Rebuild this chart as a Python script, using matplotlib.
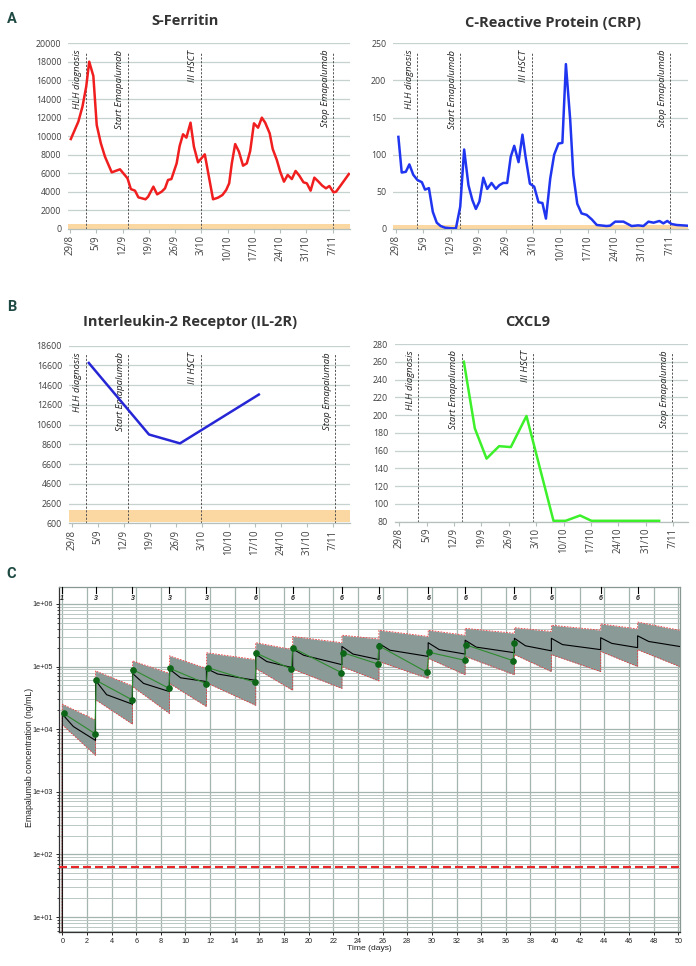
import numpy as np
import matplotlib
matplotlib.use("Agg")
import matplotlib.pyplot as plt
from matplotlib import transforms
from matplotlib.ticker import FixedLocator, NullFormatter


# ---------------------------------------------
# panels A / B : days counted from 29/8
# ---------------------------------------------
x_tick_days = [0, 7, 14, 21, 28, 35, 42, 49, 56, 63, 70]
x_tick_labels = ['29/8', '5/9', '12/9', '19/9', '26/9', '3/10', '10/10', '17/10', '24/10', '31/10', '7/11']
event_names = ['HLH diagnosis', 'Start Emapalumab', 'III HSCT', 'Stop Emapalumab']

ferritin_events = [4.2, 15.4, 34.8, 70.2]
ferritin_day = [0.2, 2.2, 3.3, 4.3, 5.1, 6.2, 7.1, 8.2, 9.3, 11.1, 13.3, 15.3, 16.2, 17.3, 18.2,
                20.1, 20.8, 22.2, 23.2, 24.4, 25.3, 26.1, 27.0, 28.4, 29.2, 30.1, 31.0, 32.1, 33.0, 34.1,
                35.9, 38.1, 39.4, 40.6, 41.6, 42.4, 43.1, 44.0, 45.0, 46.1, 47.1, 48.0, 49.0, 50.1, 51.1,
                52.0, 53.2, 54.0, 55.1, 56.0, 57.0, 58.0, 59.1, 60.1, 61.1, 62.2, 63.1, 64.1, 65.1, 66.2,
                67.2, 68.2, 69.1, 70.2, 70.9, 72.2, 74.3]
ferritin_val = [9690, 11560, 13180, 15330, 18020, 16480, 11200, 9230, 7790, 6100, 6430, 5460, 4300, 4130, 3410,
                3200, 3480, 4560, 3730, 4020, 4380, 5280, 5380, 7070, 8940, 10200, 9840, 11450, 8870, 7180,
                8040, 3200, 3370, 3660, 4200, 4920, 7070, 9150, 8330, 6820, 7070, 8400, 11380, 10910, 11990,
                11450, 10300, 8620, 7430, 6170, 5100, 5820, 5380, 6250, 5740, 5030, 4920, 4130, 5530, 5100,
                4670, 4380, 4630, 3950, 4020, 4740, 5920]
ferritin_normal = [0, 500]

crp_events = [5.45, 16.4, 34.7, 70.0]
crp_day = [0.6, 1.45, 2.5, 3.4, 4.4, 5.45, 6.6, 7.4, 8.4, 9.4,
           10.4, 11.4, 12.5, 14.2, 15.3, 16.4, 17.4, 18.5, 19.5, 20.4,
           21.3, 22.3, 23.3, 24.4, 25.5, 26.4, 27.4, 28.4, 29.3, 30.2,
           31.3, 32.3, 33.1, 34.2, 35.3, 36.4, 37.4, 38.3, 39.4, 40.4,
           41.5, 42.5, 43.4, 44.5, 45.3, 46.3, 47.4, 48.7, 50.0, 51.3,
           53.8, 54.7, 56.0, 58.1, 60.2, 61.9, 63.2, 64.5, 65.8, 67.3,
           68.3, 69.3, 70.4, 71.7, 74.3]
crp_val = [124, 76, 77, 87, 73, 66, 63, 53, 55, 23,
           8.5, 4, 1.8, 0.9, 0.9, 30, 107, 59, 39, 27,
           37, 69, 54, 62, 54, 59, 62, 62, 97, 112,
           90, 127, 97, 61, 57, 36, 35, 14, 68, 100,
           115, 116, 222, 147, 73, 34, 21, 19, 13, 5.4,
           4, 4.5, 9.9, 9.9, 4, 4.9, 4, 9.9, 8.5, 10.8,
           7.6, 10.8, 6.7, 5.4, 4.5]
crp_normal = [0, 6]

il2r_events = [3.75, 15.1, 34.6, 70.6]
il2r_day = [4.6, 20.7, 29.0, 50.1]
il2r_val = [16850, 9600, 8700, 13650]
il2r_normal = [750, 1950]

cxcl9_events = [4.85, 15.9, 34.2, 69.8]
cxcl9_day = [16.5, 19.3, 22.3, 25.5, 28.5, 32.5, 39.4, 42.5, 46.2, 49.1, 66.4]
cxcl9_val = [260, 185, 151, 165, 164, 199, 81, 81, 87, 81, 81]

# ---------------------------------------------
# panel C : emapalumab PK
# ---------------------------------------------
dose_day = [0, 2.7, 5.7, 8.7, 11.7, 15.7, 18.7, 22.7, 25.7, 29.7, 32.7, 36.7, 39.7, 43.7, 46.7]
dose_label = ['1', '3', '3', '3', '3', '6', '6', '6', '6', '6', '6', '6', '6', '6', '6']
sim_end_day = 50.1
pre_dose_conc = 1.0

med_peak = [17400, 60000, 77600, 91000, 93000, 158000, 190000, 209000, 234000, 240000, 263000, 282000, 282000, 288000, 309000]
med_mid = [11000, 35500, 53700, 66000, 76000, 120000, 151000, 158000, 182000, 186000, 204000, 214000, 224000, 234000, 251000]
med_trough = [6600, 25000, 39800, 57500, 60000, 95500, 107000, 129000, 145000, 158000, 166000, 178000, 186000, 200000, 209000]
hi_start = [25000, 85000, 123000, 148000, 166000, 240000, 302000, 316000, 380000, 380000, 407000, 417000, 457000, 479000, 513000]
hi_end = [14000, 49000, 77600, 93300, 129000, 186000, 240000, 275000, 302000, 316000, 339000, 363000, 380000, 398000, 380000]
lo_start = [11700, 29500, 47900, 53700, 55000, 93300, 91000, 100000, 120000, 135000, 145000, 155000, 155000, 174000, 186000]
lo_end = [3800, 12000, 17800, 22900, 24000, 41700, 44700, 58900, 64600, 74000, 74000, 83000, 83000, 100000, 100000]

obs_day = [0.1, 2.65, 2.75, 5.65, 5.75, 8.65, 8.75, 11.7, 11.8, 15.65, 15.75, 18.6, 18.7,
           22.65, 22.75, 25.6, 25.7, 29.6, 29.75, 32.65, 32.75, 36.6, 36.7]
obs_conc = [17800, 8500, 60000, 29500, 89000, 45000, 93000, 53000, 96000, 56000, 163000, 91000, 199000,
            80000, 167000, 110000, 214000, 81000, 169000, 126000, 222000, 124000, 241000]
target_conc = 63

c_xticks = list(range(0, 51, 2))
c_yticks = [1e1, 1e2, 1e3, 1e4, 1e5, 1e6]
c_ytick_labels = ['1e+01', '1e+02', '1e+03', '1e+04', '1e+05', '1e+06']


W, H = 696, 966
GRID = '#c6d2cf'
BAND = '#fbd8a2'
XAX = '#b5bfbc'
EXCEL_FONT = 'Open Sans'


def px_rect(left, right, top, bottom):
    return [left / W, 1 - bottom / H, (right - left) / W, (bottom - top) / H]


def excel_panel(fig, rect, xlim, ylim, yticks, day, val, color, events, title, title_xy, normal=None):
    ax = fig.add_axes(rect)
    ax.set_xlim(xlim)
    ax.set_ylim(ylim)
    if normal is not None:
        ax.axhspan(normal[0], normal[1], color=BAND, lw=0, zorder=1)
    ax.set_yticks(yticks)
    ax.set_yticklabels([str(v) for v in yticks], fontfamily=EXCEL_FONT)
    ax.grid(axis='y', color=GRID, lw=0.9)
    ax.set_axisbelow(True)
    for s in ['left', 'right', 'top']:
        ax.spines[s].set_visible(False)
    ax.spines['bottom'].set_color(XAX)
    ax.spines['bottom'].set_linewidth(0.9)
    ax.set_xticks(x_tick_days)
    ax.set_xticklabels(x_tick_labels, rotation=90, fontfamily=EXCEL_FONT)
    ax.tick_params(axis='y', length=0, pad=5, labelsize=6.3, labelcolor='#404040')
    ax.tick_params(axis='x', length=3, width=0.8, color=XAX, pad=1.5, labelsize=6.9, labelcolor='#404040')

    # event lines + labels
    trans = transforms.blended_transform_factory(ax.transData, ax.transAxes)
    text_trans = transforms.offset_copy(trans, fig=fig, x=-2.5, y=0, units='points')
    for ev, name in zip(events, event_names):
        ax.axvline(ev, ymin=0, ymax=0.955, color='#555555', lw=0.7, ls=(0, (2.2, 1.6)), zorder=2)
        ax.text(ev, 0.965, name, transform=text_trans, rotation=90, ha='right', va='top',
                fontsize=6.8, style='italic', color='#222222', fontfamily=EXCEL_FONT)

    ax.plot(day, val, color=color, lw=1.8, zorder=3, solid_joinstyle='round')
    fig.text(title_xy[0] / W, 1 - title_xy[1] / H, title, ha='center', va='center',
             fontsize=10.5, weight='bold', color='#333333', fontfamily=EXCEL_FONT)
    return ax


fig = plt.figure(figsize=(W / 100, H / 100), dpi=100)

excel_panel(fig, px_rect(68.2, 350, 43.3, 229), (-0.5, 74.6), (0, 20000), list(range(0, 20001, 2000)),
            ferritin_day, ferritin_val, '#f01e1e', ferritin_events, 'S-Ferritin', (185, 20.7), ferritin_normal)
excel_panel(fig, px_rect(393.3, 688, 43.3, 229), (-0.7, 74.6), (0, 250), list(range(0, 251, 50)),
            crp_day, crp_val, '#1f35f0', crp_events, 'C-Reactive Protein (CRP)', (553, 23), crp_normal)
excel_panel(fig, px_rect(69, 350, 345.7, 523.3), (-0.7, 74.5), (600, 18600), list(range(600, 18601, 2000)),
            il2r_day, il2r_val, '#2626d6', il2r_events, 'Interleukin-2 Receptor (IL-2R)', (190, 322), il2r_normal)
excel_panel(fig, px_rect(395, 687.7, 344, 521.7), (-1.1, 73.7), (80, 280), list(range(80, 281, 20)),
            cxcl9_day, cxcl9_val, '#3cf02a', cxcl9_events, 'CXCL9', (528, 322))

for letter, (lx, ly) in zip(['A', 'B', 'C'], [(11.5, 19), (11.5, 307), (11, 573.5)]):
    fig.text(lx / W, 1 - ly / H, letter, ha='center', va='center', fontsize=10.5,
             weight='bold', color='#1f4a44', fontfamily='Roboto')

# ---------------------------------------------
# panel C
# ---------------------------------------------
band_t, band_hi, band_lo = [0], [pre_dose_conc], [pre_dose_conc]
med_t, med_c = [0], [pre_dose_conc]
for k, d in enumerate(dose_day):
    end = dose_day[k + 1] if k + 1 < len(dose_day) else sim_end_day
    band_t += [d, end]
    band_hi += [hi_start[k], hi_end[k]]
    band_lo += [lo_start[k], lo_end[k]]
    med_t += [d, d + 0.9, end]
    med_c += [med_peak[k], med_mid[k], med_trough[k]]

axc = fig.add_axes(px_rect(58.7, 680, 587, 932.3))
axc.set_yscale('log')
axc.set_xlim(-0.29, 50.14)
axc.set_ylim(5.7, 1.86e6)

axc.set_xticks(c_xticks)
axc.set_xticklabels([str(v) for v in c_xticks], fontfamily='Liberation Sans')
axc.yaxis.set_major_locator(FixedLocator(c_yticks))
axc.set_yticklabels(c_ytick_labels, fontfamily='Liberation Sans')
minor = [m * 10 ** e for e in range(0, 7) for m in range(2, 10)]
axc.yaxis.set_minor_locator(FixedLocator(minor))
axc.yaxis.set_minor_formatter(NullFormatter())
axc.grid(which='major', axis='x', color='#a4b4af', lw=0.9)
axc.grid(which='major', axis='y', color='#a4b4af', lw=0.9)
axc.grid(which='minor', axis='y', color='#bac7c3', lw=0.7)
axc.set_axisbelow(True)
axc.tick_params(axis='both', which='major', labelsize=5.2, length=2.5, width=0.7, pad=1.5, colors='#222222')
axc.tick_params(axis='y', which='minor', length=1.5, width=0.6, color='#222222')
for s in ['left', 'bottom']:
    axc.spines[s].set_color('#333333')
    axc.spines[s].set_linewidth(0.9)
for s in ['right', 'top']:
    axc.spines[s].set_color('#8a9894')
    axc.spines[s].set_linewidth(0.9)

axc.fill_between(band_t, band_lo, band_hi, color='#899a97', lw=0, zorder=2)
axc.plot(band_t, band_hi, color='#e8393e', lw=0.6, ls=(0, (2, 1.5)), zorder=3)
axc.plot(band_t, band_lo, color='#e8393e', lw=0.6, ls=(0, (2, 1.5)), zorder=3)
axc.plot(med_t, med_c, color='black', lw=0.8, zorder=4)
axc.plot(obs_day, obs_conc, color='#2e8b2e', lw=0.8, zorder=5)
axc.plot(obs_day, obs_conc, ls='none', marker='o', ms=3.8, color='#0d6618', zorder=6)
axc.axhline(target_conc, color='#e8262a', lw=1.6, dashes=(3.6, 1.8), zorder=4)

# dose markers on top
top_trans = transforms.blended_transform_factory(axc.transData, axc.transAxes)
for d, lab in zip(dose_day, dose_label):
    axc.plot([d, d], [0.984, 1.0], color='black', lw=0.8, transform=top_trans, clip_on=False, zorder=6)
    axc.text(d, 0.968, lab, transform=top_trans, ha='center', va='center', fontsize=5,
             style='italic', weight='bold', color='#222222', fontfamily='Liberation Sans')

fig.text(29 / W, 1 - 757 / H, 'Emapalumab concentration (ng/mL)', rotation=90, ha='center', va='center',
         fontsize=6.3, color='#222222', fontfamily='Liberation Sans')
fig.text(369 / W, 1 - 949 / H, 'Time (days)', ha='center', va='center',
         fontsize=6.1, color='#222222', fontfamily='Liberation Sans')

fig.savefig('out.png', dpi=100)
